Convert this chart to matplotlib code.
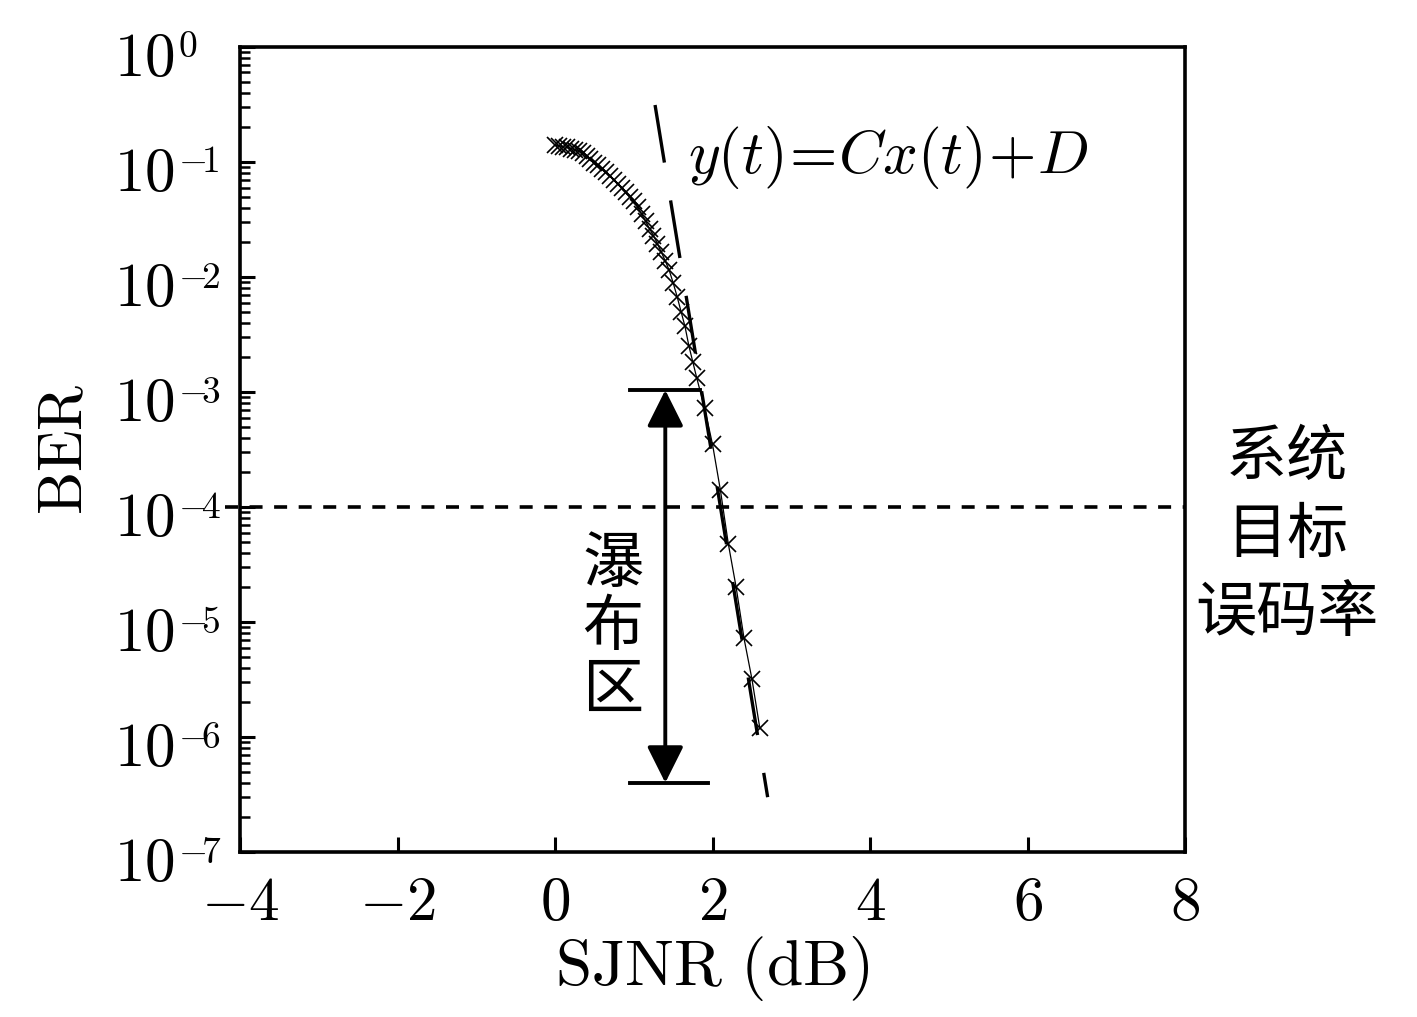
import math
import matplotlib
matplotlib.use("Agg")
import matplotlib.pyplot as plt
from matplotlib.ticker import FixedLocator, FuncFormatter, LogLocator, NullFormatter
from matplotlib.transforms import blended_transform_factory, ScaledTranslation

plt.rcParams['mathtext.fontset'] = 'cm'
plt.rcParams['font.family'] = ['Noto Sans CJK SC', 'DejaVu Sans']

# ---- data ----
sjnr_db = [0.00, 0.05, 0.10, 0.15, 0.20, 0.25, 0.30, 0.35, 0.40, 0.45,
           0.50, 0.55, 0.60, 0.65, 0.70, 0.75, 0.80, 0.85, 0.90, 0.95,
           1.00, 1.05, 1.10, 1.15, 1.20, 1.25, 1.30, 1.35, 1.40, 1.45,
           1.50, 1.55, 1.60, 1.65, 1.70, 1.75, 1.80, 1.90, 2.00, 2.10,
           2.20, 2.30, 2.40, 2.50, 2.60]
ber = [0.140, 0.138, 0.136, 0.134, 0.131, 0.128, 0.124, 0.120, 0.1135, 0.106,
       0.0989, 0.0933, 0.0871, 0.0813, 0.0750, 0.0692, 0.0638, 0.0589, 0.0543, 0.0501,
       0.0457, 0.0403, 0.0351, 0.0305, 0.0263, 0.0229, 0.0195, 0.0164, 0.0138, 0.0114,
       0.0089, 0.00676, 0.00501, 0.00372, 0.00251, 0.00182, 0.00132, 7.2e-4, 3.5e-4, 1.4e-4,
       4.8e-5, 2.0e-5, 7.2e-6, 3.2e-6, 1.2e-6]

fit_x = [1.27, 2.70]
fit_y = [0.313, 3.0e-7]

target_ber = 1e-4
target_x = [-4.19, 8.0]
waterfall_x = 1.40
waterfall_top = 1.04e-3
waterfall_bottom = 4.0e-7
bar_top_x = [0.95, 1.84]
bar_bottom_x = [0.95, 1.94]

x_ticks = [-4, -2, 0, 2, 4, 6, 8]
y_exponents = [0, -1, -2, -3, -4, -5, -6, -7]

equation = r'$y(t)\!=\!Cx(t)\!+\!D$'
waterfall_label = ['瀑', '布', '区']
target_label = ['系统', '目标', '误码率']

FS = 44

fig = plt.figure(figsize=(14.17, 10.17), dpi=100)
ax = fig.add_axes([0.1694, 0.1622, 0.8363 - 0.1694, 0.9538 - 0.1622])
ax.set_yscale('log')
ax.set_xlim(-4, 8)
ax.set_ylim(1e-7, 1e0)

# target BER dotted line
ax.plot(target_x, [target_ber, target_ber], color='black', lw=2.6,
        linestyle=(0, (3.6, 3.2)), zorder=2, clip_on=False)

# fitted line (long dashes)
ax.plot(fit_x, fit_y, color='black', lw=2.4, linestyle=(0, (17.5, 11.5)),
        dash_capstyle='butt', zorder=3)

# simulated curve
ax.plot(sjnr_db, ber, color='black', lw=0.9, marker='x', markersize=11,
        markeredgewidth=1.2, zorder=4)

# waterfall region arrow and bars
ax.plot(bar_top_x, [waterfall_top, waterfall_top], color='black', lw=2.8, zorder=3)
ax.plot(bar_bottom_x, [waterfall_bottom, waterfall_bottom], color='black', lw=2.8, zorder=3)
ax.annotate('', xy=(waterfall_x, waterfall_bottom), xytext=(waterfall_x, waterfall_top),
            arrowprops=dict(arrowstyle='<|-|>,head_length=0.5,head_width=0.25',
                            color='black', lw=2.8, mutation_scale=45,
                            shrinkA=0, shrinkB=0), zorder=3)

# texts
ax.text(1.69, 0.11, equation, fontsize=FS, ha='left', va='center')
for i, ch in enumerate(waterfall_label):
    ax.text(0.737, 10 ** (-(565 - 47 + 63 * i) / 115), ch, fontsize=FS,
            ha='center', va='center')
for i, line in enumerate(target_label):
    fig.text(1287 / 1417, 1 - (458 + 78 * i) / 1017, line, fontsize=FS,
             ha='center', va='center')

# axes styling
for s in ax.spines.values():
    s.set_linewidth(2.6)
ax.xaxis.set_major_locator(FixedLocator(x_ticks))
ax.xaxis.set_major_formatter(FuncFormatter(lambda v, p: r'$%d$' % v))
ax.yaxis.set_major_locator(FixedLocator([10.0 ** e for e in y_exponents]))
ax.yaxis.set_major_formatter(NullFormatter())
ax.yaxis.set_minor_locator(LogLocator(base=10, subs=[2, 3, 4, 5, 6, 7, 8, 9], numticks=20))
ax.yaxis.set_minor_formatter(NullFormatter())
ax.tick_params(axis='both', which='major', direction='in', length=11, width=2.2,
               labelsize=FS, top=False, right=False)
ax.tick_params(axis='x', which='major', pad=14)
ax.tick_params(axis='y', which='minor', direction='in', length=7, width=1.8,
               right=False)

# y tick labels: base "10" with a small exponent
ytrans = blended_transform_factory(ax.transAxes, ax.transData)
base_trans = ytrans + ScaledTranslation(0, -0.12, fig.dpi_scale_trans)
for e in y_exponents:
    ax.text(-0.0688, 10.0 ** e, r'$10$', fontsize=FS, ha='right', va='center',
            transform=base_trans, clip_on=False)
    ax.text(-0.0656, 10.0 ** e, r'$%s$' % (r'-\!%d' % -e if e < 0 else '%d' % e),
            fontsize=27, ha='left', va='center', transform=ytrans, clip_on=False)

ax.set_xlabel(r'$\mathrm{SJNR\ (dB)}$', fontsize=47, labelpad=0)
ax.set_ylabel(r'$\mathrm{BER}$', fontsize=FS, labelpad=0)
ax.yaxis.set_label_coords(-0.152, 0.5)

fig.savefig('out.png', dpi=100, facecolor='white')
